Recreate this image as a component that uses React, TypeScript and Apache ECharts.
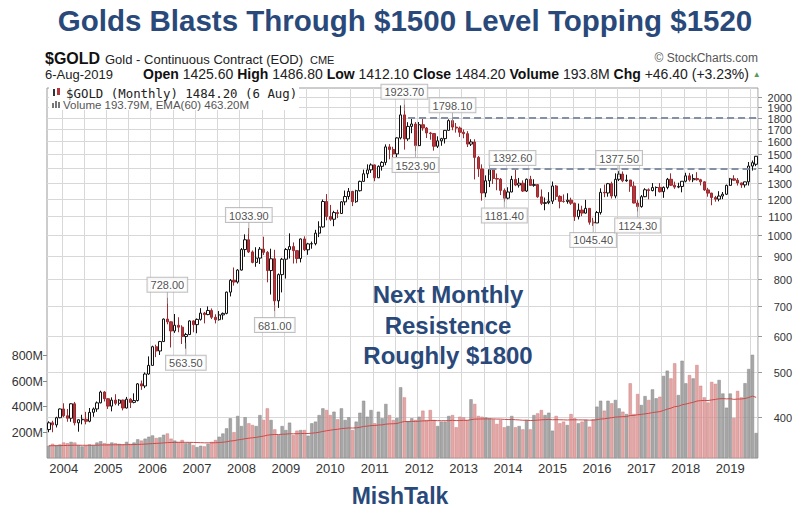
import React, { useEffect, useRef } from "react";
import * as echarts from "echarts";

// Monthly candles: [open, close, low, high]
const ohlc2003 = [[375,388,370,391],[388,384,370,392],[384,398,379,400],[398,416,397,417]];
const ohlc2004 = [[416,402,399,428],[402,397,390,416],[397,427,390,428],[427,388,383,431],[388,394,371,395],[394,395,385,404],[395,391,385,410],[391,409,389,418],[409,416,400,419],[416,429,410,432],[429,453,428,456],[453,438,432,455]];
const ohlc2005 = [[438,422,416,439],[422,435,411,441],[435,428,424,448],[428,435,423,437],[435,418,413,436],[418,437,417,442],[437,430,418,439],[430,434,428,450],[434,472,432,474],[472,467,458,480],[467,496,462,500],[496,518,494,542]];
const ohlc2006 = [[518,569,518,572],[569,557,540,575],[557,584,546,586],[584,654,583,656],[654,645,637,728],[645,616,567,647],[616,634,610,671],[634,628,612,660],[628,599,577,634],[599,605,563.5,610],[605,648,604,650],[648,636,612,650]];
const ohlc2007 = [[636,653,609,656],[653,674,649,691],[674,669,640,678],[669,683,667,697],[683,660,654,690],[660,652,640,670],[652,668,649,681],[668,673,652,676],[673,749,670,751],[749,795,733,800],[795,788,774,848],[788,837,782,841]];
const ohlc2008 = [[837,928,835,935],[928,975,895,1002],[975,917,912,1033.9],[917,870,866,924],[870,889,851,939],[889,930,863,940],[930,915,903,990],[915,835,787,921],[835,886,740,932],[886,717,681,927],[717,818,692,823],[818,884,748,890]];
const ohlc2009 = [[884,928,802,935],[928,942,887,1007],[942,923,865,962],[923,887,866,925],[887,979,870,981],[979,927,921,992],[927,955,904,960],[955,956,932,966],[956,1008,948,1025],[1008,1040,988,1070],[1040,1182,1036,1194],[1182,1096,1075,1227]];
const ohlc2010 = [[1096,1081,1072,1162],[1081,1118,1044,1128],[1118,1113,1087,1134],[1113,1180,1110,1185],[1180,1212,1160,1249],[1212,1244,1195,1265],[1244,1181,1155,1247],[1181,1248,1174,1254],[1248,1308,1243,1313],[1308,1359,1306,1388],[1359,1386,1330,1425],[1386,1421,1365,1432]];
const ohlc2011 = [[1421,1332,1309,1424],[1332,1411,1330,1418],[1411,1439,1381,1448],[1439,1556,1419,1576],[1556,1536,1462,1578],[1536,1502,1477,1557],[1502,1628,1478,1633],[1628,1828,1616,1917],[1828,1620,1535,1923.7],[1620,1725,1604,1762],[1725,1746,1667,1804],[1746,1566,1523.9,1763]];
const ohlc2012 = [[1566,1740,1562,1764],[1740,1711,1688,1791],[1711,1669,1627,1720],[1669,1664,1613,1678],[1664,1561,1527,1667],[1561,1604,1547,1641],[1604,1622,1565,1629],[1622,1691,1583,1692],[1691,1776,1689,1788],[1776,1719,1692,1798.1],[1719,1711,1672,1755],[1711,1675,1636,1724]];
const ohlc2013 = [[1675,1663,1625,1698],[1663,1578,1555,1684],[1578,1595,1563,1617],[1595,1476,1321,1617],[1476,1393,1338,1487],[1393,1234,1187,1425],[1234,1312,1208,1348],[1312,1388,1271,1392.6],[1388,1327,1291,1390],[1327,1323,1251,1361],[1323,1250,1221,1330],[1250,1202,1181.4,1262]];
const ohlc2014 = [[1202,1240,1195,1270],[1240,1321,1238,1345],[1321,1284,1277,1388],[1284,1296,1268,1331],[1296,1246,1240,1315],[1246,1322,1240,1327],[1322,1282,1281,1345],[1282,1287,1273,1322],[1287,1210,1204,1288],[1210,1171,1161,1256],[1171,1175,1131,1206],[1175,1184,1166,1239]];
const ohlc2015 = [[1184,1278,1167,1307],[1278,1213,1191,1284],[1213,1183,1142,1220],[1183,1182,1175,1225],[1182,1190,1169,1232],[1190,1172,1162,1205],[1172,1095,1072,1175],[1095,1132,1080,1170],[1132,1115,1098,1157],[1115,1142,1112,1192],[1142,1065,1052,1142],[1065,1061,1045.4,1089]];
const ohlc2016 = [[1061,1118,1061,1127],[1118,1238,1107,1263],[1238,1234,1208,1287],[1234,1293,1211,1298],[1293,1215,1200,1306],[1215,1322,1201,1362],[1322,1357,1310,1377.5],[1357,1312,1303,1375],[1312,1317,1305,1353],[1317,1277,1241,1318],[1277,1173,1171,1307],[1173,1152,1124.3,1190]];
const ohlc2017 = [[1152,1211,1146,1221],[1211,1254,1208,1264],[1254,1249,1195,1263],[1249,1268,1244,1297],[1268,1269,1214,1275],[1269,1242,1237,1297],[1242,1269,1204,1275],[1269,1322,1257,1331],[1322,1283,1278,1362],[1283,1271,1260,1306],[1271,1275,1264,1299],[1275,1309,1238,1310]];
const ohlc2018 = [[1309,1345,1302,1366],[1345,1318,1307,1365],[1318,1327,1303,1356],[1327,1319,1313,1370],[1319,1305,1282,1325],[1305,1253,1247,1309],[1253,1233,1211,1266],[1233,1206,1160,1235],[1206,1196,1181,1216],[1196,1215,1183,1245],[1215,1226,1196,1240],[1226,1282,1221,1287]];
const ohlc2019 = [[1282,1325,1278,1331],[1325,1316,1311,1349],[1316,1298,1281,1330],[1298,1285,1266,1300],[1285,1305,1268,1306],[1305,1413,1281,1442],[1413,1437,1381,1453],[1425.6,1484.2,1412.1,1486.8]];

// Monthly volume, millions
const vol2003 = [95,110,100,105];
const vol2004 = [120,115,125,120,100,90,95,105,100,120,130,115];
const vol2005 = [110,120,115,110,105,125,110,120,145,135,150,165];
const vol2006 = [175,155,160,180,190,150,135,125,140,115,120,100];
const vol2007 = [85,95,90,110,125,140,165,190,230,308,200,326];
const vol2008 = [248,316,269,256,248,333,295,385,295,222,178,248];
const vol2009 = [217,274,178,212,217,217,173,269,282,333,385,372];
const vol2010 = [333,359,300,385,295,316,217,282,351,444,320,372];
const vol2011 = [269,359,308,419,333,295,310,548,470,282,308,295];
const vol2012 = [320,367,295,372,295,248,282,282,326,333,238,320];
const vol2013 = [315,295,455,419,326,320,315,308,300,264,295,238];
const vol2014 = [248,326,238,248,222,295,222,333,346,372,333,351];
const vol2015 = [212,326,269,282,256,341,308,269,282,295,243,300];
const vol2016 = [398,444,367,444,424,450,385,359,341,579,341,496];
const vol2017 = [411,480,450,532,463,475,636,677,617,734,488,754];
const vol2018 = [579,643,617,721,560,470,430,590,575,605,500,390];
const vol2019 = [500,310,520,470,580,690,800,194];

const yearBlocks = [
  { year: 2003, firstMonth: 9, ohlc: ohlc2003, vol: vol2003 },
  { year: 2004, firstMonth: 1, ohlc: ohlc2004, vol: vol2004 },
  { year: 2005, firstMonth: 1, ohlc: ohlc2005, vol: vol2005 },
  { year: 2006, firstMonth: 1, ohlc: ohlc2006, vol: vol2006 },
  { year: 2007, firstMonth: 1, ohlc: ohlc2007, vol: vol2007 },
  { year: 2008, firstMonth: 1, ohlc: ohlc2008, vol: vol2008 },
  { year: 2009, firstMonth: 1, ohlc: ohlc2009, vol: vol2009 },
  { year: 2010, firstMonth: 1, ohlc: ohlc2010, vol: vol2010 },
  { year: 2011, firstMonth: 1, ohlc: ohlc2011, vol: vol2011 },
  { year: 2012, firstMonth: 1, ohlc: ohlc2012, vol: vol2012 },
  { year: 2013, firstMonth: 1, ohlc: ohlc2013, vol: vol2013 },
  { year: 2014, firstMonth: 1, ohlc: ohlc2014, vol: vol2014 },
  { year: 2015, firstMonth: 1, ohlc: ohlc2015, vol: vol2015 },
  { year: 2016, firstMonth: 1, ohlc: ohlc2016, vol: vol2016 },
  { year: 2017, firstMonth: 1, ohlc: ohlc2017, vol: vol2017 },
  { year: 2018, firstMonth: 1, ohlc: ohlc2018, vol: vol2018 },
  { year: 2019, firstMonth: 1, ohlc: ohlc2019, vol: vol2019 },
];

const priceTicks = [2000,1900,1800,1700,1600,1500,1400,1300,1200,1100,1000,900,800,700,600,500,400];
const volumeTicks = [200,400,600,800];

const annotMonths = ["2006-05","2006-10","2008-03","2008-10","2011-09","2011-12","2012-10","2013-08","2013-12","2015-12","2016-07","2016-12"];
const annotValues = [728,563.5,1033.9,681,1923.7,1523.9,1798.1,1392.6,1181.4,1045.4,1377.5,1124.3];

const resistStart = ["2011-10","2013-08"];
const resistValues = [1798.1,1392.6];

const NAVY = "#29497a";
const SANS = '"Liberation Sans", Arial, sans-serif';

export default function App() {
  const ref = useRef<HTMLDivElement>(null);

  useEffect(() => {
    if (!ref.current) return;
    const chart = echarts.init(ref.current, undefined, { renderer: "svg" });

    const cats: string[] = [];
    const candles: number[][] = [];
    const vols: number[] = [];
    yearBlocks.forEach((b) => {
      b.ohlc.forEach((c, i) => {
        const m = b.firstMonth + i;
        cats.push(`${b.year}-${String(m).padStart(2, "0")}`);
        candles.push(c);
        vols.push(b.vol[i]);
      });
    });
    const k = 2 / 61;
    const ema: number[] = [];
    vols.forEach((v, i) => ema.push(i === 0 ? v : v * k + ema[i - 1] * (1 - k)));

    const volData = vols.map((v, i) => {
      const up = candles[i][1] >= candles[i][0];
      return {
        value: v,
        itemStyle: up
          ? { color: "rgba(150,150,150,0.85)", borderColor: "#888", borderWidth: 0.5 }
          : { color: "rgba(224,150,150,0.85)", borderColor: "#cc8080", borderWidth: 0.5 },
      };
    });

    const annotData = annotMonths.map((m, i) => {
      const idx = cats.indexOf(m);
      const v = annotValues[i];
      const isHigh = Math.abs(candles[idx][3] - v) < 0.01;
      const shifted = m === "2013-08";
      return {
        value: [idx, v],
        label: {
          position: isHigh ? "top" : "bottom",
          distance: isHigh ? 0 : 1,
          offset: shifted ? [23, 2] : [0, 0],
        },
      };
    });

    const last = cats[cats.length - 1];

    const headerRich =
      "{b|Open} {v|1425.60} {b|High} {v|1486.80} {b|Low} {v|1412.10} {b|Close} {v|1484.20} {b|Volume} {v|193.8M} {b|Chg} {v|+46.40 (+3.23%)} {g|\u25B2}";

    const option: any = {
      animation: false,
      backgroundColor: "#ffffff",
      grid: {
        left: 47,
        right: 51,
        top: 88,
        bottom: 59,
        show: true,
        borderColor: "#9a9a9a",
        borderWidth: 1,
        backgroundColor: "transparent",
        containLabel: false,
        outerBoundsMode: "none",
      },
      xAxis: {
        type: "category",
        data: cats,
        boundaryGap: true,
        axisLine: { show: false },
        axisTick: { show: false },
        axisLabel: {
          interval: (i: number) => cats[i].endsWith("-01"),
          formatter: (v: string) => v.slice(0, 4),
          color: "#333",
          fontSize: 13,
          fontFamily: SANS,
          margin: 4,
        },
        splitLine: {
          show: true,
          interval: (i: number) => cats[i].endsWith("-01") || cats[i].endsWith("-07"),
          lineStyle: { color: "#d8d8d8", width: 1 },
        },
      },
      yAxis: [
        { type: "log", min: 325, max: 2093, show: false, splitLine: { show: false } },
        { type: "value", min: 0, max: 2868, show: false, splitLine: { show: false } },
      ],
      series: [
        {
          type: "custom",
          name: "priceGrid",
          xAxisIndex: 0,
          yAxisIndex: 0,
          clip: false,
          silent: true,
          z: 0,
          encode: { x: 0, y: 1 },
          data: priceTicks.map((v) => [0, v]),
          renderItem: (params: any, api: any) => {
            const v = api.value(1);
            const y = Math.round(api.coord([0, v])[1]) + 0.5;
            const cs = params.coordSys;
            return {
              type: "group",
              children: [
                { type: "line", shape: { x1: cs.x, y1: y, x2: cs.x + cs.width, y2: y }, style: { stroke: "#d8d8d8", lineWidth: 1 } },
                { type: "line", shape: { x1: cs.x + cs.width, y1: y, x2: cs.x + cs.width + 4, y2: y }, style: { stroke: "#999", lineWidth: 1 } },
                {
                  type: "text",
                  x: cs.x + cs.width + 34,
                  y: y,
                  style: { text: String(v), textAlign: "right", textVerticalAlign: "middle", align: "right", verticalAlign: "middle", fill: "#333", font: `11px ${SANS}` },
                },
              ],
            };
          },
        },
        {
          type: "custom",
          name: "volTicks",
          xAxisIndex: 0,
          yAxisIndex: 1,
          clip: false,
          silent: true,
          z: 0,
          encode: { x: 0, y: 1 },
          data: volumeTicks.map((v) => [0, v]),
          renderItem: (params: any, api: any) => {
            const v = api.value(1);
            const y = Math.round(api.coord([0, v])[1]) + 0.5;
            const cs = params.coordSys;
            return {
              type: "group",
              children: [
                { type: "line", shape: { x1: cs.x - 4, y1: y, x2: cs.x, y2: y }, style: { stroke: "#888", lineWidth: 1 } },
                {
                  type: "text",
                  x: cs.x - 4,
                  y: y,
                  style: { text: v + "M", textAlign: "right", textVerticalAlign: "middle", align: "right", verticalAlign: "middle", fill: "#333", font: `12.5px ${SANS}` },
                },
              ],
            };
          },
        },
        {
          type: "bar",
          name: "Volume",
          xAxisIndex: 0,
          yAxisIndex: 1,
          barWidth: "88%",
          z: 1,
          data: volData,
        },
        {
          type: "line",
          name: "EMA(60)",
          xAxisIndex: 0,
          yAxisIndex: 1,
          data: ema,
          showSymbol: false,
          smooth: false,
          z: 2,
          lineStyle: { color: "#cc4a4a", width: 1 },
        },
        {
          type: "candlestick",
          name: "$GOLD",
          xAxisIndex: 0,
          yAxisIndex: 0,
          barWidth: 2.8,
          z: 3,
          data: candles,
          itemStyle: {
            color: "#ffffff",
            color0: "#b3373c",
            borderColor: "#111111",
            borderColor0: "#9c2a2e",
            borderWidth: 1,
          },
          markLine: {
            silent: true,
            symbol: ["none", "none"],
            label: { show: false },
            lineStyle: { type: [7, 4], color: "#8490a6", width: 2 },
            data: resistStart.map((m, i) => [
              { coord: [m, resistValues[i]] },
              { coord: [last, resistValues[i]] },
            ]),
          },
        },
        {
          type: "scatter",
          name: "annotations",
          xAxisIndex: 0,
          yAxisIndex: 0,
          symbol: "rect",
          symbolSize: [1, 12],
          itemStyle: { color: "#9a9a9a" },
          z: 5,
          data: annotData,
          label: {
            show: true,
            formatter: (p: any) => p.value[1].toFixed(2),
            color: "#222",
            fontSize: 11,
            fontFamily: SANS,
            backgroundColor: "#ffffff",
            borderColor: "#b0b0b0",
            borderWidth: 1,
            padding: [2, 3, 1, 3],
          },
        },
      ],
      graphic: [
        { type: "text", x: 405, y: 20, style: { text: "Golds Blasts Through $1500 Level Topping $1520", textAlign: "center", textVerticalAlign: "middle", fill: NAVY, font: `bold 29.5px ${SANS}` } },
        { type: "text", x: 45, y: 58, style: { text: "$GOLD", textVerticalAlign: "middle", fill: "#111", font: `bold 16px ${SANS}` } },
        { type: "text", x: 105, y: 59, style: { text: "Gold - Continuous Contract (EOD)", textVerticalAlign: "middle", fill: "#222", font: `13px ${SANS}` } },
        { type: "text", x: 310, y: 60, style: { text: "CME", textVerticalAlign: "middle", fill: "#222", font: `11px ${SANS}` } },
        { type: "text", x: 758, y: 58, style: { text: "\u00A9 StockCharts.com", textAlign: "right", textVerticalAlign: "middle", fill: "#555", font: `12px ${SANS}` } },
        { type: "text", x: 45, y: 74, style: { text: "6-Aug-2019", textVerticalAlign: "middle", fill: "#222", font: `13px ${SANS}` } },
        {
          type: "text",
          x: 143,
          y: 74,
          style: {
            text: headerRich,
            textVerticalAlign: "middle",
            font: `14px ${SANS}`,
            fill: "#222",
            rich: {
              b: { font: `bold 14px ${SANS}`, fill: "#111" },
              v: { font: `14px ${SANS}`, fill: "#222" },
              g: { font: `8px ${SANS}`, fill: "#5a9a5a" },
            },
          },
        },
        { type: "rect", shape: { x: 49, y: 87, width: 250, height: 23 }, style: { fill: "#ffffff" }, z: 10 },
        { type: "text", x: 66, y: 93, z: 11, style: { text: "$GOLD (Monthly) 1484.20 (6 Aug)", textVerticalAlign: "middle", fill: "#222", font: `12.4px "DejaVu Sans Mono", monospace` } },
        { type: "rect", shape: { x: 53, y: 89, width: 2, height: 7 }, style: { fill: "#333" }, z: 11 },
        { type: "rect", shape: { x: 57, y: 88, width: 3, height: 7 }, style: { fill: "#b3373c" }, z: 11 },
        { type: "text", x: 63, y: 105, z: 11, style: { text: "Volume 193.79M, EMA(60) 463.20M", textVerticalAlign: "middle", fill: "#555", font: `11.5px ${SANS}` } },
        { type: "rect", shape: { x: 52, y: 103, width: 2, height: 5 }, style: { fill: "#777" }, z: 11 },
        { type: "rect", shape: { x: 55, y: 101, width: 2, height: 7 }, style: { fill: "#777" }, z: 11 },
        { type: "rect", shape: { x: 58, y: 102, width: 2, height: 6 }, style: { fill: "#777" }, z: 11 },
        { type: "text", x: 448, y: 294, z: 12, style: { text: "Next Monthly", textAlign: "center", textVerticalAlign: "middle", fill: NAVY, font: `bold 24px ${SANS}` } },
        { type: "text", x: 448, y: 325, z: 12, style: { text: "Resistence", textAlign: "center", textVerticalAlign: "middle", fill: NAVY, font: `bold 24px ${SANS}` } },
        { type: "text", x: 448, y: 355, z: 12, style: { text: "Roughly $1800", textAlign: "center", textVerticalAlign: "middle", fill: NAVY, font: `bold 24px ${SANS}` } },
        { type: "text", x: 400, y: 496, z: 12, style: { text: "MishTalk", textAlign: "center", textVerticalAlign: "middle", fill: NAVY, font: `bold 23px ${SANS}` } },
      ],
    };

    chart.setOption(option);
    return () => chart.dispose();
  }, []);

  return (
    <div
      ref={ref}
      style={{ position: "absolute", left: 0, top: 0, width: 809, height: 517, background: "#fff" }}
    />
  );
}
